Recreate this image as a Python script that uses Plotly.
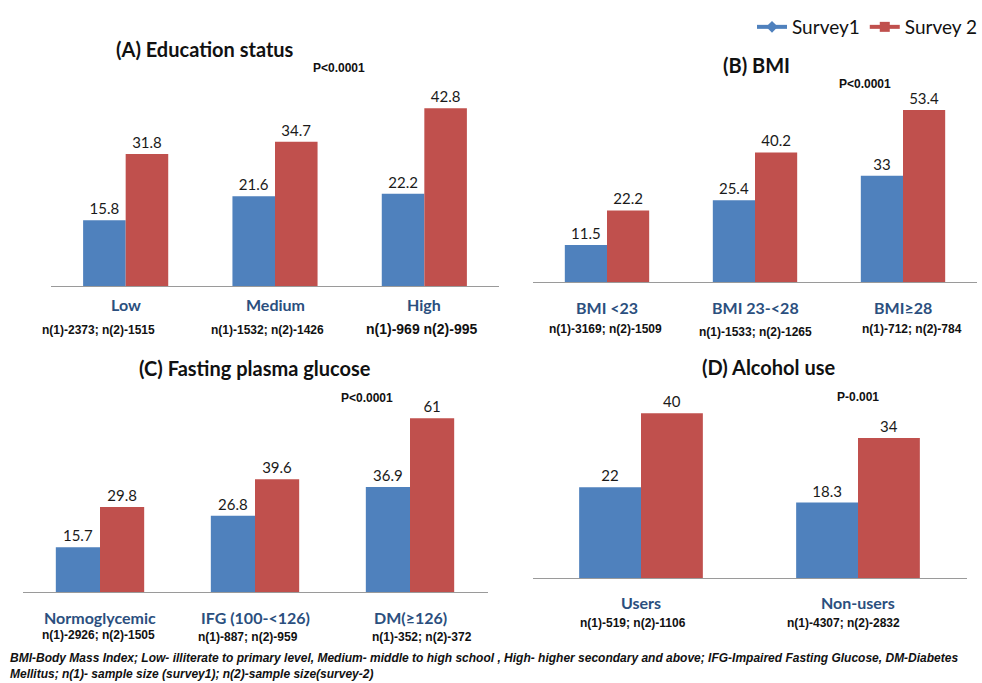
import plotly.graph_objects as go

W, H = 982, 683

# ---- data ----
edu_cats = ["Low", "Medium", "High"]
edu_s1 = [15.8, 21.6, 22.2]
edu_s2 = [31.8, 34.7, 42.8]
edu_n = ["n(1)-2373; n(2)-1515", "n(1)-1532; n(2)-1426", "n(1)-969 n(2)-995"]

bmi_cats = ["BMI <23", "BMI 23-<28", "BMI≥28"]
bmi_s1 = [11.5, 25.4, 33]
bmi_s2 = [22.2, 40.2, 53.4]
bmi_n = ["n(1)-3169; n(2)-1509", "n(1)-1533; n(2)-1265", "n(1)-712; n(2)-784"]

fpg_cats = ["Normoglycemic", "IFG (100-<126)", "DM(≥126)"]
fpg_s1 = [15.7, 26.8, 36.9]
fpg_s2 = [29.8, 39.6, 61]
fpg_n = ["n(1)-2926; n(2)-1505", "n(1)-887; n(2)-959", "n(1)-352; n(2)-372"]

alc_cats = ["Users", "Non-users"]
alc_s1 = [22, 18.3]
alc_s2 = [40, 34]
alc_n = ["n(1)-519; n(2)-1106", "n(1)-4307; n(2)-2832"]

series_names = ["Survey1", "Survey 2"]
p_values = ["P<0.0001", "P<0.0001", "P<0.0001", "P-0.001"]
titles = ["(A) Education status", "(B) BMI", "(C) Fasting plasma glucose", "(D) Alcohol use"]
footnote = ("BMI-Body Mass Index; Low- illiterate to primary level, Medium- middle to high school , "
            "High- higher secondary and above; IFG-Impaired Fasting Glucose, DM-Diabetes<br>"
            "Mellitus; n(1)- sample size (survey1); n(2)-sample size(survey-2)")

BLUE = "#4F81BD"
RED = "#C0504D"
CAT_COLOR = "#2B4F7E"
TITLE_FONT = "Lato"
BODY_FONT = "Liberation Sans, Arial"


def px(x):
    return x / W


def py(y):
    return 1 - y / H


# panel geometry in pixels: x-domain, baseline, top, y max
panels = [
    dict(cats=edu_cats, s1=edu_s1, s2=edu_s2, n=edu_n, x0=51, x1=499, base=286, top=70, ymax=52.0),
    dict(cats=bmi_cats, s1=bmi_s1, s2=bmi_s2, n=bmi_n, x0=533, x1=977, base=282, top=70, ymax=65.8),
    dict(cats=fpg_cats, s1=fpg_s1, s2=fpg_s2, n=fpg_n, x0=22.5, x1=487.5, base=592, top=400, ymax=67.4),
    dict(cats=alc_cats, s1=alc_s1, s2=alc_s2, n=alc_n, x0=532.5, x1=966.5, base=578, top=400, ymax=43.2),
]

fig = go.Figure()
layout_axes = {}

for i, p in enumerate(panels, start=1):
    xa = "x" if i == 1 else f"x{i}"
    ya = "y" if i == 1 else f"y{i}"
    for vals, color in ((p["s1"], BLUE), (p["s2"], RED)):
        fig.add_trace(go.Bar(
            x=p["cats"], y=vals, xaxis=xa, yaxis=ya,
            marker=dict(color=color, line=dict(width=0)),
            text=[f"{v:g}" for v in vals], textposition="outside",
            textfont=dict(family=TITLE_FONT, size=15, color="#1a1a1a"),
            cliponaxis=False, showlegend=False, hoverinfo="skip",
        ))
    layout_axes["xaxis" if i == 1 else f"xaxis{i}"] = dict(
        domain=[px(p["x0"]), px(p["x1"])], anchor=ya,
        type="category", categoryorder="array", categoryarray=p["cats"],
        range=[-0.5, len(p["cats"]) - 0.5], autorange=False,
        showline=True, linecolor="#9a9a9a", linewidth=1,
        showticklabels=False, ticks="", showgrid=False, zeroline=False,
        fixedrange=True,
    )
    layout_axes["yaxis" if i == 1 else f"yaxis{i}"] = dict(
        domain=[py(p["base"]), py(p["top"])], anchor=xa,
        range=[0, p["ymax"]], autorange=False, visible=False, fixedrange=True,
    )

# legend entries drawn as line+marker keys
fig.add_trace(go.Scatter(x=[None], y=[None], mode="lines+markers", name=series_names[0],
                         line=dict(color=BLUE, width=4),
                         marker=dict(symbol="diamond", size=9, color=BLUE)))
fig.add_trace(go.Scatter(x=[None], y=[None], mode="lines+markers", name=series_names[1],
                         line=dict(color=RED, width=4),
                         marker=dict(symbol="square", size=10, color=RED)))

annotations = []

# panel titles
title_pos = [(205, 49), (756, 65), (255, 368), (768, 367)]
for t, (x, y) in zip(titles, title_pos):
    annotations.append(dict(text=f"<b>{t}</b>", x=px(x), y=py(y), xref="paper", yref="paper",
                            showarrow=False, xanchor="center", yanchor="middle",
                            font=dict(family=TITLE_FONT, size=20, color="#111111")))

# p-values
p_pos = [(339, 68), (865, 84), (367, 398), (858, 397)]
for t, (x, y) in zip(p_values, p_pos):
    annotations.append(dict(text=f"<b>{t}</b>", x=px(x), y=py(y), xref="paper", yref="paper",
                            showarrow=False, xanchor="center", yanchor="middle",
                            font=dict(family=BODY_FONT, size=12, color="#111111")))

# category names and sample sizes under each axis
cat_y = [305, 307, 617, 602]
n_y = [[330, 330, 329], [329, 332, 329], [635, 637, 637], [623, 623]]
n_dx = [[-27, -8, -3], [-2, 0, 9], [-2, -7, 12], [-8, -15]]
for i, p in enumerate(panels, start=1):
    xa = "x" if i == 1 else f"x{i}"
    for j, c in enumerate(p["cats"]):
        annotations.append(dict(text=f"<b>{c}</b>", x=c, y=py(cat_y[i - 1]), xref=xa, yref="paper",
                                showarrow=False, xanchor="center", yanchor="middle",
                                font=dict(family=TITLE_FONT, size=16, color=CAT_COLOR)))
        big = (i == 1 and j == 2)
        annotations.append(dict(text=f"<b>{p['n'][j]}</b>", x=c, y=py(n_y[i - 1][j]), xref=xa,
                                yref="paper", xshift=n_dx[i - 1][j],
                                showarrow=False, xanchor="center", yanchor="middle",
                                font=dict(family=BODY_FONT, size=14 if big else 12, color="#111111")))

# footnote
annotations.append(dict(text=f"<b><i>{footnote}</i></b>", x=px(8), y=py(649), xref="paper", yref="paper",
                        showarrow=False, xanchor="left", yanchor="top", align="left",
                        font=dict(family=BODY_FONT, size=12, color="#111111")))

fig.update_layout(
    width=W, height=H,
    margin=dict(l=0, r=0, t=0, b=0),
    paper_bgcolor="white", plot_bgcolor="white",
    bargap=0.43, bargroupgap=0,
    annotations=annotations,
    showlegend=True,
    legend=dict(orientation="h", x=1, xanchor="right", y=py(8), yanchor="top",
                font=dict(family=TITLE_FONT, size=19, color="#111111"),
                itemwidth=30, bgcolor="rgba(0,0,0,0)"),
    **layout_axes,
)

fig.write_html("out.html")
